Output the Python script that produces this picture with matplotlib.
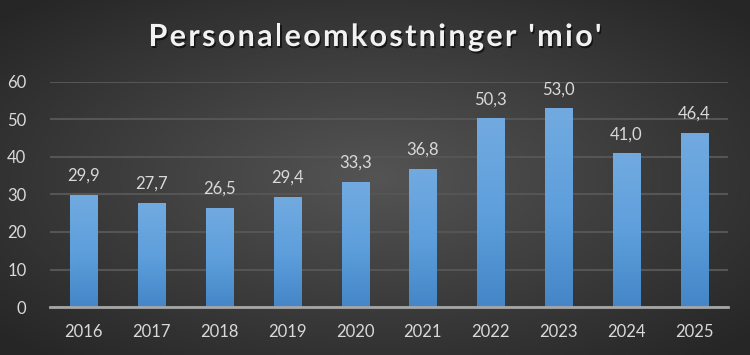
import matplotlib.pyplot as plt
import matplotlib.patheffects as pe
from matplotlib.colors import LinearSegmentedColormap
from matplotlib.font_manager import FontProperties
import numpy as np

years = ["2016", "2017", "2018", "2019", "2020", "2021", "2022", "2023", "2024", "2025"]
values = [29.9, 27.7, 26.5, 29.4, 33.3, 36.8, 50.3, 53.0, 41.0, 46.4]
title = "Personaleomkostninger 'mio'"

plt.rcParams['font.family'] = ['Lato', 'DejaVu Sans']

fig = plt.figure(figsize=(7.5, 3.55), dpi=100)

# radial gradient background
bg = fig.add_axes([0, 0, 1, 1], zorder=-10)
gx, gy = np.meshgrid(np.linspace(-1, 1, 300), np.linspace(-1, 1, 150))
r = np.clip(np.sqrt(gx ** 2 + gy ** 2) / 1.35, 0, 1)
shade = 0.33 - 0.18 * r
bg.imshow(np.dstack([shade, shade, shade]), aspect='auto', extent=[0, 1, 0, 1])
bg.axis('off')

ax = fig.add_axes([50 / 750, (355 - 307) / 355, 678 / 750, 225 / 355])
ax.set_facecolor('none')
x = np.arange(len(years))
bars = ax.bar(x, values, width=0.4, color='#5b9bd5', zorder=3)

# vertical gradient on each bar
grad = np.linspace(0, 1, 100).reshape(-1, 1)
cmap = LinearSegmentedColormap.from_list('bar', ['#4586c8', '#5e9fdc', '#72aae0'])
for b in bars:
    bx, by = b.get_x(), b.get_y()
    w, h = b.get_width(), b.get_height()
    im = ax.imshow(grad, cmap=cmap, aspect='auto', origin='lower',
                   extent=[bx, bx + w, by, by + h], zorder=3)
    im.set_clip_path(b)
    ax.annotate(f"{h:.1f}".replace('.', ','), (bx + w / 2, h),
                xytext=(0, 8), textcoords='offset points', ha='center', va='bottom',
                color='#d9d9d9', fontsize=12)

ax.set_xlim(-0.5, len(years) - 0.5)
ax.set_ylim(0, 60)
ax.set_yticks(range(0, 61, 10))
ax.set_xticks(x)
ax.set_xticklabels(years)
ax.tick_params(colors='#d9d9d9', labelsize=12, length=0)
ax.tick_params(axis='y', pad=17)
ax.tick_params(axis='x', pad=12)
ax.grid(axis='y', color='#555555', linewidth=1.5, zorder=0)
for s in ['top', 'right', 'left']:
    ax.spines[s].set_visible(False)
ax.spines['bottom'].set_color('#a6a6a6')
ax.spines['bottom'].set_linewidth(2)
ax.spines['bottom'].set_zorder(4)

# letter-spaced title, placed char by char
prop = FontProperties(family=['Lato', 'DejaVu Sans'], weight='bold', size=22)
renderer = fig.canvas.get_renderer()
widths = []
for ch in title:
    if ch == ' ':
        wch = renderer.get_text_width_height_descent('a a', prop, ismath=False)[0] - \
              renderer.get_text_width_height_descent('aa', prop, ismath=False)[0]
    else:
        wch = renderer.get_text_width_height_descent(ch, prop, ismath=False)[0]
    widths.append(wch)
target = 453
track = (target - sum(widths)) / (len(title) - 1)
xpos = 375 - target / 2
shadow = [pe.withSimplePatchShadow(offset=(1, -1.5), shadow_rgbFace='black', alpha=0.6)]
for ch, wch in zip(title, widths):
    if ch != ' ':
        fig.text(xpos / 750, 1 - 46 / 355, ch, ha='left', va='baseline',
                 color='#f2f2f2', fontproperties=prop, path_effects=shadow)
    xpos += wch + track

fig.savefig("out.png", dpi=100)
